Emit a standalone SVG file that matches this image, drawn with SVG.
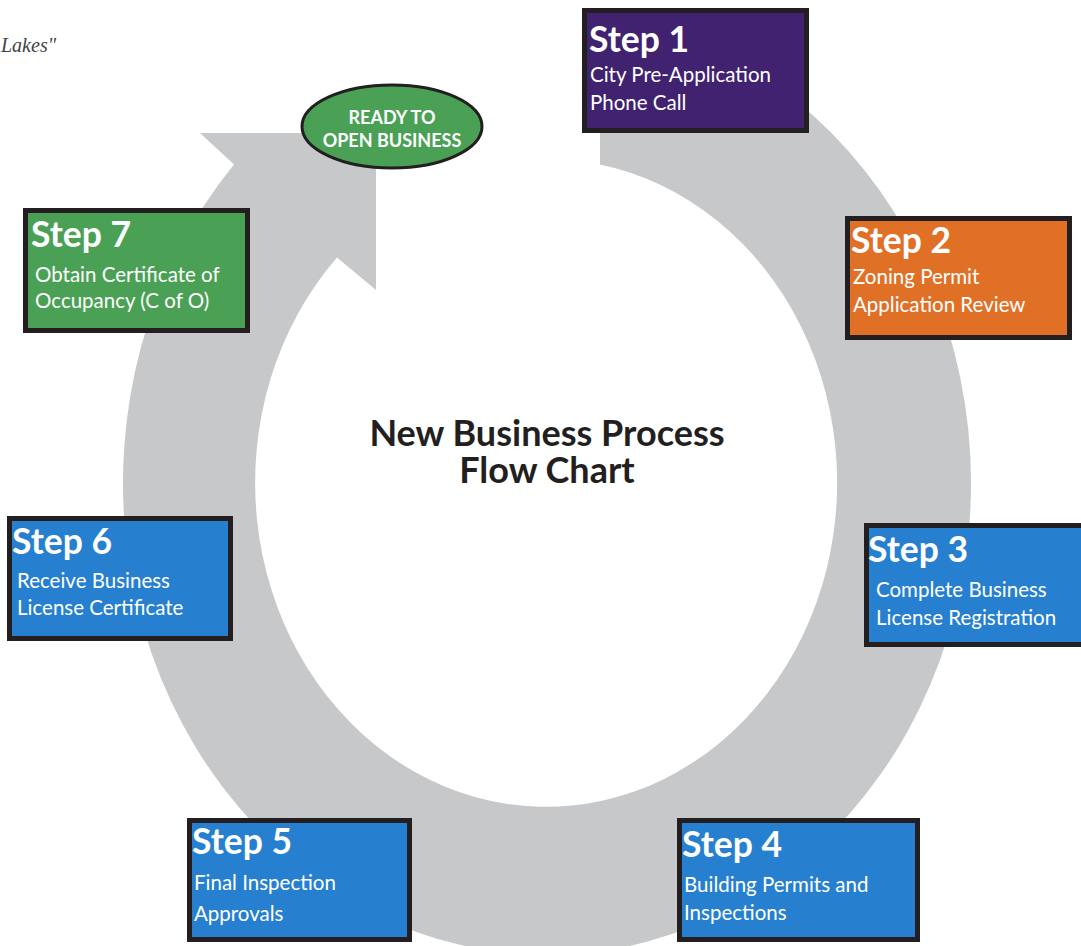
<svg xmlns="http://www.w3.org/2000/svg" width="1081" height="946" viewBox="0 0 1081 946">
<style>
.box{stroke:#231F20;stroke-width:5}
.t{font-family:Lato,"Open Sans","Liberation Sans",sans-serif;font-weight:bold;font-size:35.5px;fill:#fff}
.s{font-family:Lato,"Open Sans","Liberation Sans",sans-serif;font-size:20.5px;fill:#fff}
.title{font-family:Lato,"Open Sans","Liberation Sans",sans-serif;font-weight:bold;font-size:36px;fill:#231F20;text-anchor:middle}
.oval{font-family:Lato,"Open Sans","Liberation Sans",sans-serif;font-weight:bold;font-size:18px;fill:#fff;text-anchor:middle}
</style>
<rect width="1081" height="946" fill="#fff"/>
<text x="1" y="52" font-family="'Liberation Serif',serif" font-style="italic" font-size="20" fill="#444">Lakes"</text>
<g id="connectors">
<path d="M600,14.7 A424,472 0 1 1 234,164.6 L200,133 L376,133 L376,290 L337,257.5 A291,324 0 1 0 600,164.4 Z" fill="#C7C8CA"/>
</g>
<g id="ready">
<ellipse cx="392" cy="126.5" rx="90" ry="41.5" fill="#4AA155" stroke="#231F20" stroke-width="3"/>
<text class="oval" x="392" y="124">READY TO<tspan x="392" dy="23">OPEN BUSINESS</tspan></text>
</g>
<g id="title">
<text class="title" x="547" y="446">New Business Process<tspan x="547" dy="37">Flow Chart</tspan></text>
</g>
<g id="step1">
<rect class="box" x="584.5" y="10.5" width="222" height="120" fill="#402270"/>
<text class="t" x="589" y="52">Step 1</text>
<text class="s" x="590" y="82">City Pre-Application</text>
<text class="s" x="590" y="110">Phone Call</text>
</g>
<g id="step2">
<rect class="box" x="847.5" y="218.5" width="222" height="119" fill="#E07026"/>
<text class="t" x="851" y="253">Step 2</text>
<text class="s" x="853" y="284">Zoning Permit</text>
<text class="s" x="853" y="312">Application Review</text>
</g>
<g id="step3">
<rect class="box" x="866.5" y="525.5" width="230" height="119" fill="#2680CF"/>
<text class="t" x="868" y="562">Step 3</text>
<text class="s" x="876" y="597">Complete Business</text>
<text class="s" x="876" y="625">License Registration</text>
</g>
<g id="step4">
<rect class="box" x="679.5" y="820.5" width="238" height="119" fill="#2680CF"/>
<text class="t" x="682" y="857">Step 4</text>
<text class="s" x="684" y="892">Building Permits and</text>
<text class="s" x="684" y="920">Inspections</text>
</g>
<g id="step5">
<rect class="box" x="189.5" y="820.5" width="220" height="119" fill="#2680CF"/>
<text class="t" x="192" y="854">Step 5</text>
<text class="s" x="194" y="890">Final Inspection</text>
<text class="s" x="194" y="921">Approvals</text>
</g>
<g id="step6">
<rect class="box" x="9.5" y="518.5" width="221" height="120" fill="#2680CF"/>
<text class="t" x="12" y="554">Step 6</text>
<text class="s" x="17" y="588">Receive Business</text>
<text class="s" x="17" y="615">License Certificate</text>
</g>
<g id="step7">
<rect class="box" x="25.5" y="210.5" width="222" height="120" fill="#4AA155"/>
<text class="t" x="31" y="247">Step 7</text>
<text class="s" x="35" y="282">Obtain Certificate of</text>
<text class="s" x="35" y="308">Occupancy (C of O)</text>
</g>
</svg>
